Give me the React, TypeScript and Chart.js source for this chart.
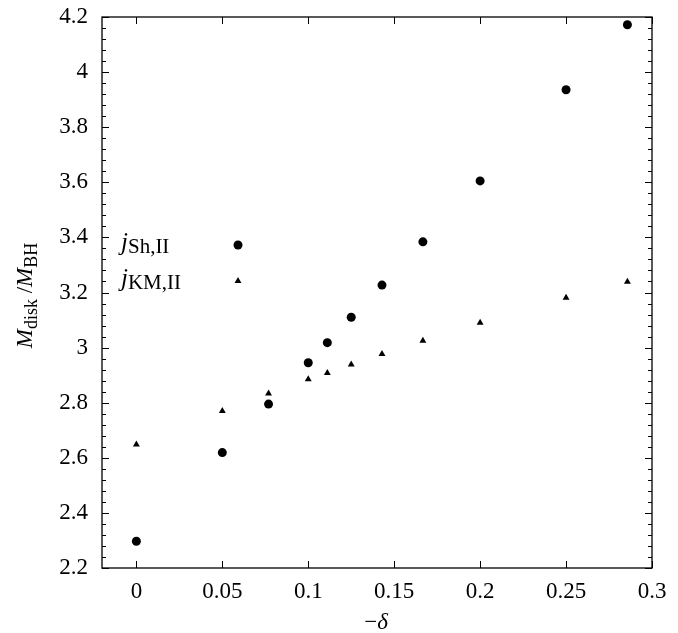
import React, { useEffect, useRef } from "react";
import { Chart, registerables } from "chart.js";

Chart.register(...registerables);

// ---- data ----
const deltaValues = [0, 0.05, 0.0769, 0.1, 0.1111, 0.125, 0.1429, 0.1667, 0.2, 0.25, 0.2857];
const jShValues = [2.297, 2.619, 2.795, 2.945, 3.018, 3.11, 3.227, 3.384, 3.605, 3.936, 4.172];
const jKmValues = [2.648, 2.77, 2.833, 2.885, 2.908, 2.939, 2.977, 3.025, 3.09, 3.181, 3.239];

const xTickValues = [0, 0.05, 0.1, 0.15, 0.2, 0.25, 0.3];
const xTickLabels = ["0", "0.05", "0.1", "0.15", "0.2", "0.25", "0.3"];
const yTickValues = [2.2, 2.4, 2.6, 2.8, 3, 3.2, 3.4, 3.6, 3.8, 4, 4.2];
const yTickLabels = ["2.2", "2.4", "2.6", "2.8", "3", "3.2", "3.4", "3.6", "3.8", "4", "4.2"];
const yMinorPerMajor = 5;

const seriesBase = ["j", "j"];
const seriesSub = ["Sh,II", "KM,II"];

const FONT = "'Liberation Serif', 'DejaVu Serif', serif";
const TICK_SIZE = 23;

type Seg = { t: string; italic?: boolean; size: number; dy?: number };

function segFont(s: Seg) {
  return `${s.italic ? "italic " : ""}${s.size}px ${FONT}`;
}

function richWidth(ctx: CanvasRenderingContext2D, segs: Seg[]) {
  let w = 0;
  for (const s of segs) {
    ctx.font = segFont(s);
    w += ctx.measureText(s.t).width;
  }
  return w;
}

function drawRich(ctx: CanvasRenderingContext2D, segs: Seg[], x: number, y: number, align: "left" | "center") {
  let cx = align === "center" ? x - richWidth(ctx, segs) / 2 : x;
  ctx.textAlign = "left";
  ctx.textBaseline = "alphabetic";
  ctx.fillStyle = "#000";
  for (const s of segs) {
    ctx.font = segFont(s);
    ctx.fillText(s.t, cx, y + (s.dy || 0));
    cx += ctx.measureText(s.t).width;
  }
}

const framePlugin = {
  id: "frameTicks",
  afterDraw(chart: any) {
    const { ctx, chartArea } = chart;
    const { left, right, top, bottom } = chartArea;
    const xs = chart.scales.x;
    const ys = chart.scales.y;
    ctx.save();
    ctx.strokeStyle = "#000";
    ctx.lineWidth = 1.3;
    ctx.strokeRect(left, top, right - left, bottom - top);
    ctx.lineWidth = 1;
    ctx.beginPath();
    for (const v of xTickValues) {
      const px = Math.round(xs.getPixelForValue(v)) + 0.5;
      ctx.moveTo(px, bottom);
      ctx.lineTo(px, bottom - 7);
      ctx.moveTo(px, top);
      ctx.lineTo(px, top + 7);
    }
    for (let i = 0; i < yTickValues.length; i++) {
      const v = yTickValues[i];
      const py = Math.round(ys.getPixelForValue(v)) + 0.5;
      ctx.moveTo(left, py);
      ctx.lineTo(left + 7, py);
      ctx.moveTo(right, py);
      ctx.lineTo(right - 7, py);
      if (i < yTickValues.length - 1) {
        const next = yTickValues[i + 1];
        for (let k = 1; k < yMinorPerMajor; k++) {
          const mv = v + ((next - v) * k) / yMinorPerMajor;
          const my = Math.round(ys.getPixelForValue(mv)) + 0.5;
          ctx.moveTo(left, my);
          ctx.lineTo(left + 4, my);
          ctx.moveTo(right, my);
          ctx.lineTo(right - 4, my);
        }
      }
    }
    ctx.stroke();

    // axis titles
    drawRich(
      ctx,
      [
        { t: "\u2212", size: 23 },
        { t: "\u03B4", italic: true, size: 23 },
      ],
      (left + right) / 2 - 1,
      629,
      "center"
    );
    ctx.save();
    ctx.translate(32, (top + bottom) / 2 + 3);
    ctx.rotate(-Math.PI / 2);
    drawRich(
      ctx,
      [
        { t: "M", italic: true, size: 23 },
        { t: "disk", size: 18, dy: 5 },
        { t: " /", size: 23 },
        { t: "M", italic: true, size: 23 },
        { t: "BH", size: 18, dy: 5 },
      ],
      0,
      0,
      "center"
    );
    ctx.restore();

    // legend (key)
    const styles = ["circle", "triangle"];
    for (let i = 0; i < seriesBase.length; i++) {
      const rowY = top + 228 + i * 36;
      drawRich(
        ctx,
        [
          { t: seriesBase[i], italic: true, size: 25 },
          { t: seriesSub[i], size: 21, dy: 3 },
        ],
        left + 19,
        rowY + 5,
        "left"
      );
      const ds = chart.data.datasets[i];
      ctx.fillStyle = "#000";
      const mx = left + 136;
      ctx.beginPath();
      if (styles[i] === "circle") {
        ctx.arc(mx, rowY, ds.pointRadius, 0, Math.PI * 2);
      } else {
        const r = ds.pointRadius;
        ctx.moveTo(mx, rowY - r);
        ctx.lineTo(mx + r * Math.cos(Math.PI / 6), rowY + r / 2);
        ctx.lineTo(mx - r * Math.cos(Math.PI / 6), rowY + r / 2);
        ctx.closePath();
      }
      ctx.fill();
    }
    ctx.restore();
  },
};

export default function App() {
  const ref = useRef<HTMLCanvasElement | null>(null);
  useEffect(() => {
    if (!ref.current) return;
    const tickFont = { family: FONT, size: TICK_SIZE };
    const chart = new Chart(ref.current, {
      type: "scatter",
      data: {
        datasets: [
          {
            label: "jSh,II",
            data: deltaValues.map((d, i) => ({ x: d, y: jShValues[i] })),
            pointStyle: "circle",
            pointRadius: 4.5,
            backgroundColor: "#000",
            borderColor: "#000",
            borderWidth: 0,
          },
          {
            label: "jKM,II",
            data: deltaValues.map((d, i) => ({ x: d, y: jKmValues[i] })),
            pointStyle: "triangle",
            pointRadius: 4,
            backgroundColor: "#000",
            borderColor: "#000",
            borderWidth: 0,
          },
        ],
      },
      options: {
        animation: false,
        responsive: false,
        events: [],
        layout: { padding: { left: 0, top: 17, right: 26, bottom: 0 } },
        plugins: { legend: { display: false }, tooltip: { enabled: false } },
        scales: {
          x: {
            type: "linear",
            min: -0.02,
            max: 0.3,
            afterBuildTicks: (s: any) => {
              s.ticks = xTickValues.map((v) => ({ value: v }));
            },
            afterFit: (s: any) => {
              s.height = 65;
              s.paddingLeft = 0;
              s.paddingRight = 0;
            },
            grid: { display: false, drawTicks: false },
            border: { display: false },
            ticks: {
              font: tickFont,
              color: "#000",
              padding: 10,
              maxRotation: 0,
              autoSkip: false,
              callback: (v: any) => {
                const i = xTickValues.findIndex((t) => Math.abs(t - v) < 1e-9);
                return i >= 0 ? xTickLabels[i] : "";
              },
            },
          },
          y: {
            type: "linear",
            min: 2.2,
            max: 4.2,
            afterBuildTicks: (s: any) => {
              s.ticks = yTickValues.map((v) => ({ value: v }));
            },
            afterFit: (s: any) => {
              s.width = 102;
              s.paddingTop = 0;
              s.paddingBottom = 0;
            },
            grid: { display: false, drawTicks: false },
            border: { display: false },
            ticks: {
              font: tickFont,
              color: "#000",
              padding: 14,
              autoSkip: false,
              callback: (v: any) => {
                const i = yTickValues.findIndex((t) => Math.abs(t - v) < 1e-9);
                return i >= 0 ? yTickLabels[i] : "";
              },
            },
          },
        },
      },
      plugins: [framePlugin],
    } as any);
    return () => chart.destroy();
  }, []);
  return (
    <div style={{ position: "fixed", left: 0, top: 0, width: 678, height: 633, background: "#fff" }}>
      <canvas ref={ref} width={678} height={633} style={{ display: "block", width: 678, height: 633 }} />
    </div>
  );
}
